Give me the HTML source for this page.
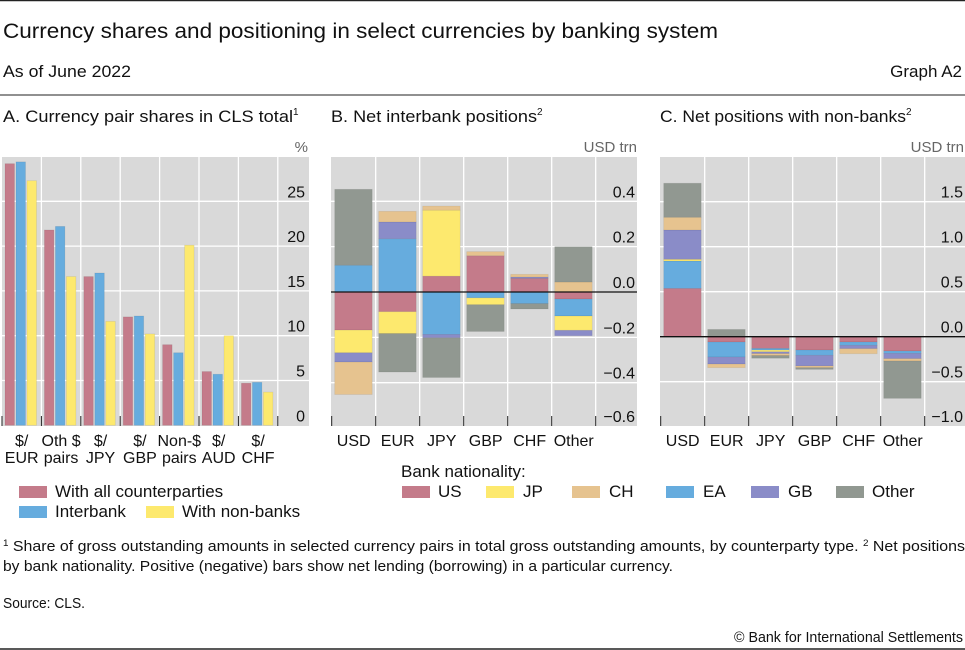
<!DOCTYPE html>
<html><head><meta charset="utf-8"><style>
html,body{margin:0;padding:0;background:#fff;}
svg{display:block;font-family:"Liberation Sans",sans-serif;}
</style></head><body>
<svg id="s" width="965" height="650" viewBox="0 0 965 650" xmlns="http://www.w3.org/2000/svg">
<line x1="0" y1="0.5" x2="965" y2="0.5" stroke="#222" stroke-width="1.5"/>
<text x="3" y="38" font-size="21" fill="#111" textLength="715" lengthAdjust="spacingAndGlyphs">Currency shares and positioning in select currencies by banking system</text>
<text x="3" y="77" font-size="17" fill="#111" textLength="128" lengthAdjust="spacingAndGlyphs">As of June 2022</text>
<text x="962" y="77" font-size="17" fill="#111" text-anchor="end">Graph A2</text>
<line x1="0" y1="95" x2="965" y2="95" stroke="#222" stroke-width="1"/>
<text x="3" y="122" font-size="17" fill="#111"><tspan textLength="290" lengthAdjust="spacingAndGlyphs">A. Currency pair shares in CLS total</tspan><tspan font-size="10" dy="-7">1</tspan></text>
<text x="331" y="122" font-size="17" fill="#111"><tspan textLength="206" lengthAdjust="spacingAndGlyphs">B. Net interbank positions</tspan><tspan font-size="10" dy="-7">2</tspan></text>
<text x="660" y="122" font-size="17" fill="#111"><tspan textLength="246" lengthAdjust="spacingAndGlyphs">C. Net positions with non-banks</tspan><tspan font-size="10" dy="-7">2</tspan></text>
<text x="308" y="152" font-size="15" fill="#666" text-anchor="end">%</text>
<text x="637" y="152" font-size="15" fill="#666" text-anchor="end">USD trn</text>
<text x="964" y="152" font-size="15" fill="#666" text-anchor="end">USD trn</text>
<g id="pa"></g>
<g id="pb"></g>
<g id="pc"></g>
<g>
<rect x="19" y="486" width="28" height="12" fill="#c47b8a"/>
<text x="55" y="497" font-size="17" fill="#111">With all counterparties</text>
<rect x="19" y="506" width="28" height="12" fill="#66acde"/>
<text x="55" y="517" font-size="17" fill="#111">Interbank</text>
<rect x="146" y="506" width="28" height="12" fill="#fde96e"/>
<text x="182" y="517" font-size="17" fill="#111">With non-banks</text>
</g>
<g>
<text x="401" y="477" font-size="17" fill="#111">Bank nationality:</text>
<rect x="402" y="486" width="28" height="12" fill="#c47b8a"/>
<text x="438" y="497" font-size="17" fill="#111">US</text>
<rect x="486" y="486" width="28" height="12" fill="#fde96e"/>
<text x="523" y="497" font-size="17" fill="#111">JP</text>
<rect x="572" y="486" width="28" height="12" fill="#e6c38f"/>
<text x="609" y="497" font-size="17" fill="#111">CH</text>
<rect x="666" y="486" width="28" height="12" fill="#66acde"/>
<text x="703" y="497" font-size="17" fill="#111">EA</text>
<rect x="751" y="486" width="28" height="12" fill="#8a8cc8"/>
<text x="788" y="497" font-size="17" fill="#111">GB</text>
<rect x="836" y="486" width="28" height="12" fill="#919891"/>
<text x="872" y="497" font-size="17" fill="#111">Other</text>
</g>
<g>
<text x="3" y="551" font-size="14.5" fill="#111" textLength="962" lengthAdjust="spacingAndGlyphs"><tspan font-size="9" dy="-5">1</tspan><tspan dy="5">  Share of gross outstanding amounts in selected currency pairs in total gross outstanding amounts, by counterparty type.   </tspan><tspan font-size="9" dy="-5">2</tspan><tspan dy="5">  Net positions</tspan></text>
<text x="3" y="571" font-size="14.5" fill="#111" textLength="670" lengthAdjust="spacingAndGlyphs">by bank nationality. Positive (negative) bars show net lending (borrowing) in a particular currency.</text>
<text x="3" y="608" font-size="14.5" fill="#111" textLength="82" lengthAdjust="spacingAndGlyphs">Source: CLS.</text>
<text x="963" y="642" font-size="14.5" fill="#111" text-anchor="end" textLength="229" lengthAdjust="spacingAndGlyphs">© Bank for International Settlements</text>
</g>
<line x1="0" y1="649" x2="965" y2="649" stroke="#222" stroke-width="1.5"/>
</svg>
<script>
// Panel A data
const aCats = [["$/","EUR"],["Oth $","pairs"],["$/","JPY"],["$/","GBP"],["Non-$","pairs"],["$/","AUD"],["$/","CHF"]];
const aAll = [29.2, 21.8, 16.6, 12.1, 9.0, 6.0, 4.7];
const aInterbank = [29.4, 22.2, 17.0, 12.2, 8.1, 5.7, 4.8];
const aNonbank = [27.3, 16.6, 11.6, 10.2, 20.1, 10.0, 3.7];
const aTicks = [0, 5, 10, 15, 20, 25];
// Panel B/C data
const bcCats = ["USD","EUR","JPY","GBP","CHF","Other"];
const seriesNames = ["US","EA","JP","GB","CH","Other"];
const bUS = [-0.168, -0.087, 0.07, 0.16, 0.06, -0.031];
const bEA = [0.118, 0.235, -0.187, -0.026, -0.051, -0.075];
const bJP = [-0.10, -0.096, 0.291, -0.03, 0, -0.063];
const bGB = [-0.041, 0.074, -0.015, 0, 0.006, -0.024];
const bCH = [-0.143, 0.047, 0.018, 0.018, 0.012, 0.044];
const bOther = [0.335, -0.17, -0.175, -0.118, -0.024, 0.156];
const bTicks = ["0.4","0.2","0.0","−0.2","−0.4","−0.6"];
const bTickVals = [0.4, 0.2, 0, -0.2, -0.4, -0.6];
const cUS = [0.537, -0.059, -0.13, -0.148, -0.059, -0.159];
const cEA = [0.304, -0.167, -0.019, -0.059, -0.037, -0.026];
const cJP = [0.019, 0, -0.019, 0, 0, 0];
const cGB = [0.326, -0.078, -0.019, -0.118, -0.037, -0.059];
const cCH = [0.141, -0.04, -0.022, -0.019, -0.056, -0.026];
const cOther = [0.378, 0.081, -0.03, -0.019, 0, -0.415];
const cTicks = ["1.5","1.0","0.5","0.0","−0.5","−1.0"];
const cTickVals = [1.5, 1.0, 0.5, 0, -0.5, -1.0];

const NS = "http://www.w3.org/2000/svg";
const COL = {US:"#c47b8a",EA:"#66acde",JP:"#fde96e",GB:"#8a8cc8",CH:"#e6c38f",Other:"#919891"};
function mk(parent, tag, attrs, txt){
  const e = document.createElementNS(NS, tag);
  for (const k in attrs) e.setAttribute(k, attrs[k]);
  if (txt !== undefined) e.textContent = txt;
  parent.appendChild(e);
  return e;
}
const TOP = 157, BOT = 426;

// ---- Panel A ----
(function(){
  const g = document.getElementById('pa');
  const L = 2, R = 309, cw = 39.4, nC = aCats.length;
  const y = v => 425.3 - v * 8.96;
  const bg = mk(g, 'rect', {x:L, y:TOP, width:R-L, height:BOT-TOP, fill:'#d9d9d9'});
  
  
  aTicks.forEach(t => {
    if (t > 0) {
      const gl = mk(g, 'line', {x1:L, x2:R, y1:y(t), y2:y(t), stroke:'#fff', 'stroke-width':1.3});
      
      
    }
    const tl = mk(g, 'text', {x:305, y:y(t)-4, 'font-size':16, 'text-anchor':'end', fill:'#111'}, String(t));
    
    
  });
  for (let i = 1; i <= nC; i++) {
    const vx = L + i * cw;
    const vl = mk(g, 'line', {x1:vx, x2:vx, y1:TOP, y2:BOT, stroke:'#fff', 'stroke-width':1.3});
    
    
  }
  for (let i = 0; i <= nC; i++) {
    const vx = L + i * cw;
    const tk = mk(g, 'line', {x1:vx, x2:vx, y1:BOT-10, y2:BOT, stroke:'#222', 'stroke-width':1});
    
    
  }
  const sets = [[aAll,'#c47b8a','bar-all'],[aInterbank,'#66acde','bar-interbank'],[aNonbank,'#fde96e','bar-nonbank']];
  aCats.forEach((c, i) => {
    const x0 = L + i * cw + 3;
    sets.forEach((s, j) => {
      const v = s[0][i];
      const b = mk(g, 'rect', {x:x0 + j*11, y:y(v), width:9.5, height:y(0)-y(v), fill:s[1], stroke:'rgba(0,0,0,0.08)', 'stroke-width':0.8});
      
      
    });
    const cx = L + i * cw + cw/2;
    const t1 = mk(g, 'text', {x:cx, y:446, 'font-size':16, 'text-anchor':'middle', fill:'#111'}, c[0]);
    
    
    const t2 = mk(g, 'text', {x:cx, y:463, 'font-size':16, 'text-anchor':'middle', fill:'#111'}, c[1]);
    
    
  });
})();

// ---- Panels B & C ----
function stacked(gid, L, R, zeroY, scale, series, ticks, tickVals, labelX, prefix){
  const g = document.getElementById(gid);
  const cw = 44, nC = bcCats.length;
  const y = v => zeroY - v * scale;
  const bg = mk(g, 'rect', {x:L, y:TOP, width:R-L, height:BOT-TOP, fill:'#d9d9d9'});
  
  
  tickVals.forEach((t, k) => {
    if (t !== 0) {
      const gl = mk(g, 'line', {x1:L, x2:R, y1:y(t), y2:y(t), stroke:'#fff', 'stroke-width':1.3});
      
      
    }
    const tl = mk(g, 'text', {x:labelX, y:Math.min(y(t), BOT) - 4, 'font-size':16, 'text-anchor':'end', fill:'#111'}, ticks[k]);
    
    
  });
  for (let i = 1; i <= nC; i++) {
    const vx = L + 0.7 + i * cw;
    const vl = mk(g, 'line', {x1:vx, x2:vx, y1:TOP, y2:BOT, stroke:'#fff', 'stroke-width':1.3});
    
    
  }
  for (let i = 0; i <= nC; i++) {
    const vx = L + 0.7 + i * cw;
    const tk = mk(g, 'line', {x1:vx, x2:vx, y1:BOT-10, y2:BOT, stroke:'#222', 'stroke-width':1});
    
    
  }
  bcCats.forEach((c, i) => {
    const x0 = L + 0.7 + i * cw + 3;
    let pos = 0, neg = 0;
    series.forEach((arr, j) => {
      const v = arr[i];
      if (!v) return;
      let a, b;
      if (v > 0) { a = pos; pos += v; b = pos; } else { a = neg; neg += v; b = neg; }
      const top = y(Math.max(a, b)), bot = y(Math.min(a, b));
      const r = mk(g, 'rect', {x:x0, y:top, width:37.5, height:bot-top, fill:COL[seriesNames[j]], stroke:'rgba(0,0,0,0.07)', 'stroke-width':0.8});
      
      
    });
    const t = mk(g, 'text', {x:L + 0.7 + i*cw + cw/2, y:446, 'font-size':16, 'text-anchor':'middle', fill:'#111'}, c);
    
    
  });
  const z = mk(g, 'line', {x1:L, x2:R, y1:y(0), y2:y(0), stroke:'#111', 'stroke-width':1.3});
  
  
}
stacked('pb', 331, 637, 292, 226.7, [bUS,bEA,bJP,bGB,bCH,bOther], bTicks, bTickVals, 635, 'panel-b');
stacked('pc', 660, 965, 336.7, 90, [cUS,cEA,cJP,cGB,cCH,cOther], cTicks, cTickVals, 963, 'panel-c');
</script>
</body></html>
